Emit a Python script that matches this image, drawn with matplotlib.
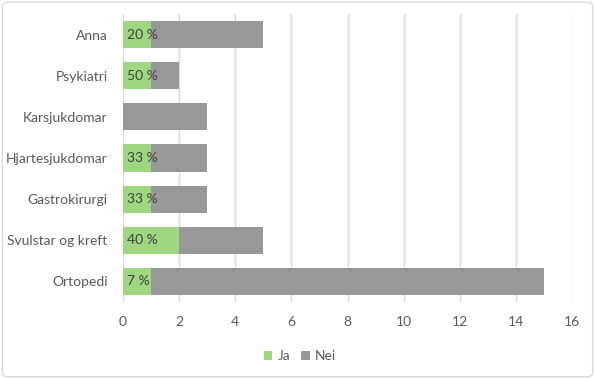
import matplotlib.pyplot as plt
from matplotlib.patches import FancyBboxPatch

# Data
kategoriar = ['Anna', 'Psykiatri', 'Karsjukdomar', 'Hjartesjukdomar',
              'Gastrokirurgi', 'Svulstar og kreft', 'Ortopedi']
ja = [1, 1, 0, 1, 1, 2, 1]
nei = [4, 1, 3, 2, 2, 3, 14]
etikettar = ['20 %', '50 %', '', '33 %', '33 %', '40 %', '7 %']

green = '#9fd780'
grey = '#989898'
textcol = '#595959'

plt.rcParams['font.family'] = ['Lato', 'DejaVu Sans']

fig = plt.figure(figsize=(5.95, 3.79), dpi=100)
ax = fig.add_axes([123 / 595, 1 - 302 / 379, (572 - 123) / 595, (302 - 14) / 379])

y = list(range(len(kategoriar)))[::-1]
ax.barh(y, ja, height=0.66, color=green, label='Ja', zorder=3)
ax.barh(y, nei, left=ja, height=0.66, color=grey, label='Nei', zorder=3)

for yi, lab in zip(y, etikettar):
    if lab:
        ax.text(0.15, yi, lab, va='center', ha='left', fontsize=10, color='#404040', zorder=4)

ax.set_xlim(0, 16)
ax.set_ylim(-0.5, len(kategoriar) - 0.5)
ax.set_xticks(range(0, 17, 2))
ax.set_yticks(y)
ax.set_yticklabels(kategoriar)
ax.tick_params(axis='both', length=0, colors=textcol, labelsize=10)
ax.tick_params(axis='y', pad=11)
ax.tick_params(axis='x', pad=10)
ax.grid(axis='x', color='#d9d9d9', linewidth=1, zorder=0)
for s in ax.spines.values():
    s.set_visible(False)

leg = fig.legend(loc='center', bbox_to_anchor=(300 / 595, 1 - 356 / 379), ncol=2,
                 frameon=False, fontsize=10, handlelength=0.6, handleheight=0.6,
                 columnspacing=0.8, handletextpad=0.4)
for t in leg.get_texts():
    t.set_color(textcol)

border = FancyBboxPatch((0.004, 0.006), 0.992, 0.988, boxstyle='round,pad=0,rounding_size=0.01',
                        transform=fig.transFigure, fill=False, edgecolor='#d9d9d9', linewidth=1)
fig.patches.append(border)

fig.savefig('out.png', dpi=100)
